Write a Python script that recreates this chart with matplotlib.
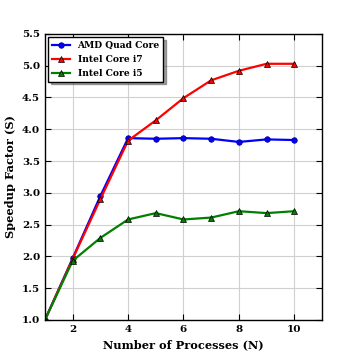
import matplotlib
matplotlib.use("Agg")
import matplotlib.pyplot as plt

processes = [1, 2, 3, 4, 5, 6, 7, 8, 9, 10]
amd_quad = [1.0, 1.97, 2.95, 3.86, 3.85, 3.86, 3.85, 3.80, 3.84, 3.83]
intel_i7 = [1.0, 1.96, 2.90, 3.82, 4.14, 4.49, 4.77, 4.92, 5.03, 5.03]
intel_i5 = [1.0, 1.93, 2.29, 2.58, 2.68, 2.58, 2.61, 2.71, 2.68, 2.71]

plt.rcParams['font.family'] = 'DejaVu Serif'
plt.rcParams['font.weight'] = 'bold'

fig = plt.figure(figsize=(3.57, 3.57), dpi=100)
ax = fig.add_axes([0.126, 0.104, 0.776, 0.801])

ax.plot(processes, amd_quad, color='blue', marker='o', markersize=4,
        markeredgecolor='#000080', markeredgewidth=0.5, linewidth=1.6, label='AMD Quad Core')
ax.plot(processes, intel_i7, color='red', marker='^', markersize=4,
        markeredgecolor='k', markeredgewidth=0.5, linewidth=1.6, label='Intel Core i7')
ax.plot(processes, intel_i5, color='green', marker='^', markersize=4,
        markeredgecolor='k', markeredgewidth=0.5, linewidth=1.6, label='Intel Core i5')

ax.set_xlim(1, 11)
ax.set_ylim(1.0, 5.5)
ax.set_xticks([2, 4, 6, 8, 10])
ax.set_yticks([1.0, 1.5, 2.0, 2.5, 3.0, 3.5, 4.0, 4.5, 5.0, 5.5])
ax.tick_params(direction='in', labelsize=7.5, top=True, right=True, length=4)
for lab in ax.get_xticklabels() + ax.get_yticklabels():
    lab.set_fontweight('bold')
ax.grid(True, color='#d0d0d0', linewidth=0.8)
for sp in ax.spines.values():
    sp.set_linewidth(1.0)

ax.set_xlabel('Number of Processes (N)', fontsize=8.2, fontweight='bold')
ax.set_ylabel('Speedup Factor (S)', fontsize=8.2, fontweight='bold')

leg = ax.legend(loc='upper left', fontsize=6.6, shadow=True, fancybox=False,
                framealpha=1, edgecolor='k', borderaxespad=0.35, handlelength=2.0,
                labelspacing=0.55, borderpad=0.4)
for t in leg.get_texts():
    t.set_fontweight('bold')

fig.savefig('out.png', dpi=100)
